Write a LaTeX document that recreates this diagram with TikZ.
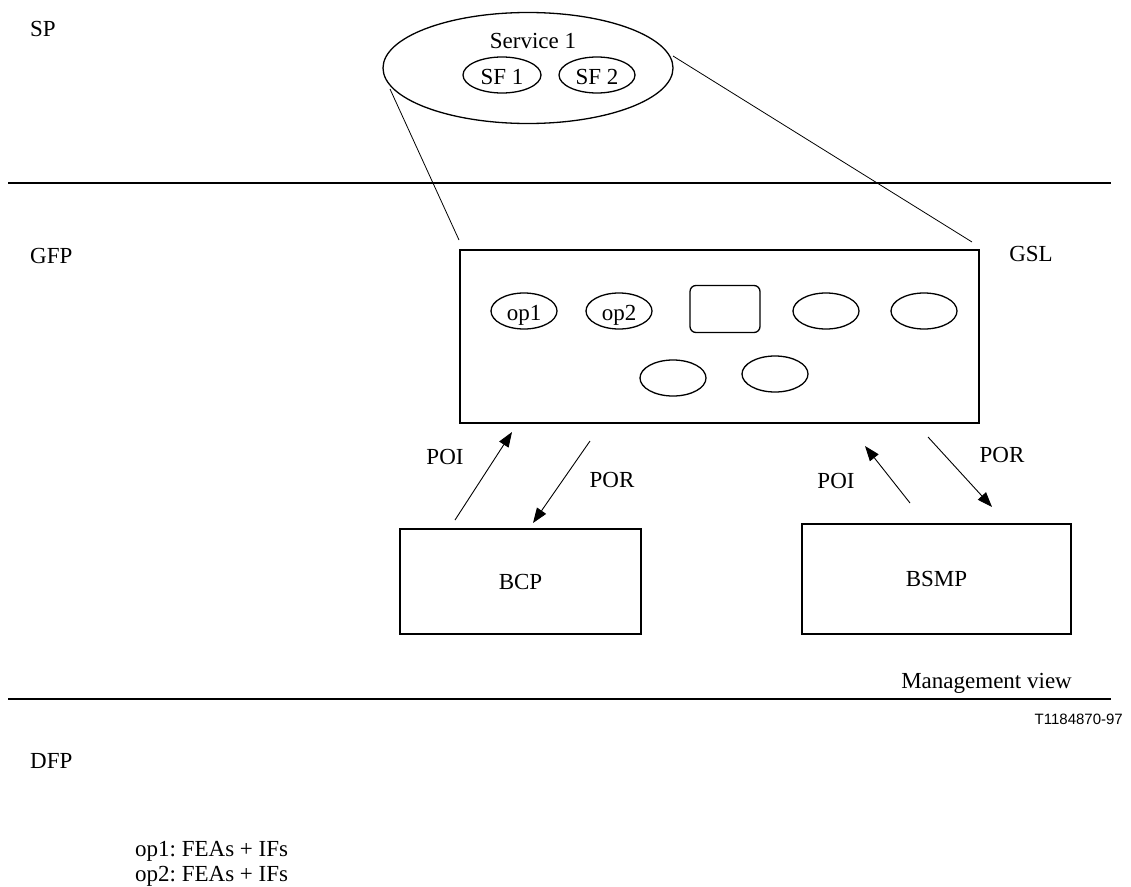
\documentclass[tikz,border=0pt]{standalone}
\usepackage{fontspec}
\setmainfont{Liberation Serif}
\newfontfamily\arialfont{Liberation Sans}
\usetikzlibrary{shapes.geometric,arrows.meta}
\frenchspacing
\begin{document}
\begin{tikzpicture}[x=1pt,y=-1pt,
  lbl/.style={inner sep=0pt, font=\fontsize{23}{27}\selectfont},
  oval/.style={draw, ellipse, line width=1.3pt, inner sep=0pt, font=\fontsize{23}{27}\selectfont},
  frame/.style={draw, line width=1.1pt, inner sep=0pt, font=\fontsize{23}{27}\selectfont},
  link/.style={line width=0.8pt},
  flow/.style={line width=0.9pt, -{Triangle[length=15pt,width=11pt]}},
  sep/.style={line width=2.2pt}]
\useasboundingbox (0,0) rectangle (1131,886);

% separators
\coordinate (s1a) at (8,183);
\coordinate (s1b) at (1111,183);
\coordinate (s2a) at (8,699);
\coordinate (s2b) at (1111,699);
\draw[sep] (s1a) -- (s1b);
\draw[sep] (s2a) -- (s2b);

% layer labels
\node[lbl, anchor=west] (sp) at (30,29) {SP};
\node[lbl, anchor=west] (gfp) at (30,256) {GFP};
\node[lbl, anchor=west] (dfp) at (30,761) {DFP};

% service ellipse
\node[oval, minimum width=290pt, minimum height=111pt] (svc) at (528,68) {};
\node[lbl] (svct) at (533,41) {Service 1};
\node[oval, minimum width=78pt, minimum height=36pt] (sf1) at (502,75) {};
\node[lbl] (sf1t) at ([yshift=-2pt]sf1.center) {SF 1};
\node[oval, minimum width=76pt, minimum height=36pt] (sf2) at (597,75) {};
\node[lbl] (sf2t) at ([yshift=-2pt]sf2.center) {SF 2};

% GSL box
\node[frame, minimum width=519pt, minimum height=173pt] (gsl) at (719.5,336.5) {};
\node[lbl] (gslt) at (1031,254) {GSL};
\node[oval, minimum width=66pt, minimum height=36pt] (op1) at (524,311) {};
\node[lbl] (op1t) at ([yshift=-4pt]op1.center) {op1};
\node[oval, minimum width=66pt, minimum height=36pt] (op2) at (619,311) {};
\node[lbl] (op2t) at ([yshift=-4pt]op2.center) {op2};
\node[draw, line width=1.3pt, rounded corners=6pt, minimum width=70pt, minimum height=47pt] (rr) at (725,309) {};
\node[oval, minimum width=66pt, minimum height=36pt] (e4) at (826,311) {};
\node[oval, minimum width=66pt, minimum height=36pt] (e5) at (924,311) {};
\node[oval, minimum width=66pt, minimum height=36pt] (e6) at (673,378) {};
\node[oval, minimum width=66pt, minimum height=36pt] (e7) at (775,374) {};

% zoom lines
\coordinate (zl1) at (390,89);
\coordinate (zl2) at (459,240);
\coordinate (zr1) at (673,56);
\coordinate (zr2) at (972,242);
\draw[link] (zl1) -- (zl2);
\draw[link] (zr1) -- (zr2);

% lower boxes
\node[frame, minimum width=241pt, minimum height=105pt] (bcp) at (520.5,581.5) {BCP};
\node[frame, minimum width=269pt, minimum height=110pt] (bsmp) at (936.5,579) {BSMP};

% arrows
\coordinate (a1s) at (455,520);
\coordinate (a1e) at (512,432);
\coordinate (a2s) at (590,441);
\coordinate (a2e) at (533,523);
\coordinate (a3s) at (910,503);
\coordinate (a3e) at (865,446);
\coordinate (a4s) at (928,437);
\coordinate (a4e) at (992,507);
\draw[flow] (a1s) -- (a1e);
\draw[flow] (a2s) -- (a2e);
\draw[flow] (a3s) -- (a3e);
\draw[flow] (a4s) -- (a4e);
\node[lbl] (poi1) at (445,457) {POI};
\node[lbl] (por1) at (612,480) {POR};
\node[lbl] (poi2) at (836,481) {POI};
\node[lbl] (por2) at (1002,455) {POR};

% captions
\node[lbl, anchor=base east] (mv) at (1072,688) {Management view};
\node[inner sep=0pt, anchor=base east, font=\arialfont\fontsize{15}{18}\selectfont] (tid) at (1123,724) {T1184870-97};
\node[lbl, anchor=base west] (leg1) at (135,856) {op1: FEAs + IFs};
\node[lbl, anchor=base west] (leg2) at (135,881) {op2: FEAs + IFs};
\end{tikzpicture}
\end{document}
